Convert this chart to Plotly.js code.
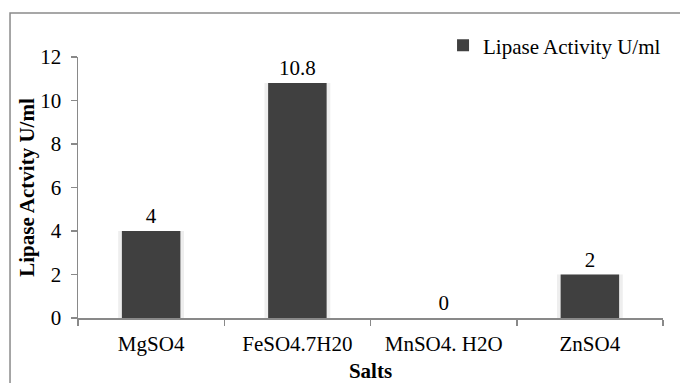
<!DOCTYPE html>
<html>
<head>
<meta charset="utf-8">
<script src="https://cdn.plot.ly/plotly-3.0.1.min.js"></script>
<style>
  html, body { margin: 0; padding: 0; background: #fff; }
  #chart { width: 680px; height: 383px; }
</style>
</head>
<body>
<div id="chart"></div>
<script>
const salts = ["MgSO4", "FeSO4.7H20", "MnSO4. H2O", "ZnSO4"];
const lipaseActivity = [4, 10.8, 0, 2];
const seriesName = "Lipase Activity U/ml";
const yTickVals = [0, 2, 4, 6, 8, 10, 12];

const serif = "'Liberation Serif', 'Times New Roman', serif";
const axisGray = "#898989";

const shadow = {
  type: "bar",
  x: salts,
  y: lipaseActivity,
  width: 0.45,
  marker: { color: "#eeeeee" },
  showlegend: false,
  hoverinfo: "skip"
};

const bars = {
  type: "bar",
  name: seriesName,
  x: salts,
  y: lipaseActivity,
  width: 0.4,
  marker: { color: "#404040" },
  text: lipaseActivity.map(String),
  textposition: "outside",
  textfont: { family: serif, size: 21, color: "#000" },
  cliponaxis: false
};

const layout = {
  width: 680,
  height: 383,
  margin: { l: 78, r: 17, t: 57, b: 65 },
  paper_bgcolor: "#fff",
  plot_bgcolor: "#fff",
  barmode: "overlay",
  font: { family: serif, size: 21, color: "#000" },
  showlegend: true,
  legend: {
    x: 0.624, xanchor: "left",
    y: 1.122, yanchor: "top",
    bgcolor: "rgba(0,0,0,0)",
    font: { family: serif, size: 21, color: "#000" }
  },
  xaxis: {
    type: "category",
    showline: true,
    linecolor: axisGray,
    linewidth: 1.5,
    ticks: "outside",
    tickson: "boundaries",
    ticklen: 6,
    tickcolor: axisGray,
    tickwidth: 1.5,
    showgrid: false,
    ticklabelstandoff: 6,
    tickfont: { family: serif, size: 21 },
    title: { text: "<b>Salts</b>", font: { family: serif, size: 21 }, standoff: 14 }
  },
  yaxis: {
    range: [0, 12],
    tickvals: yTickVals,
    showline: true,
    linecolor: axisGray,
    linewidth: 1.5,
    ticks: "outside",
    ticklen: 6,
    tickcolor: axisGray,
    tickwidth: 1.5,
    showgrid: false,
    zeroline: false,
    ticklabelstandoff: 5,
    tickfont: { family: serif, size: 21 },
    title: { text: "<b>Lipase Actvity U/ml</b>", font: { family: serif, size: 21 }, standoff: 0 }
  },
  shapes: [{
    type: "rect",
    xref: "paper", yref: "paper",
    x0: -0.1162, x1: 1.06,
    y0: -0.3, y1: 1.1686,
    line: { color: "#8a8a8a", width: 1.5 },
    fillcolor: "rgba(0,0,0,0)",
    layer: "below"
  }]
};

Plotly.newPlot("chart", [shadow, bars], layout, { displayModeBar: false, staticPlot: true });
</script>
</body>
</html>
